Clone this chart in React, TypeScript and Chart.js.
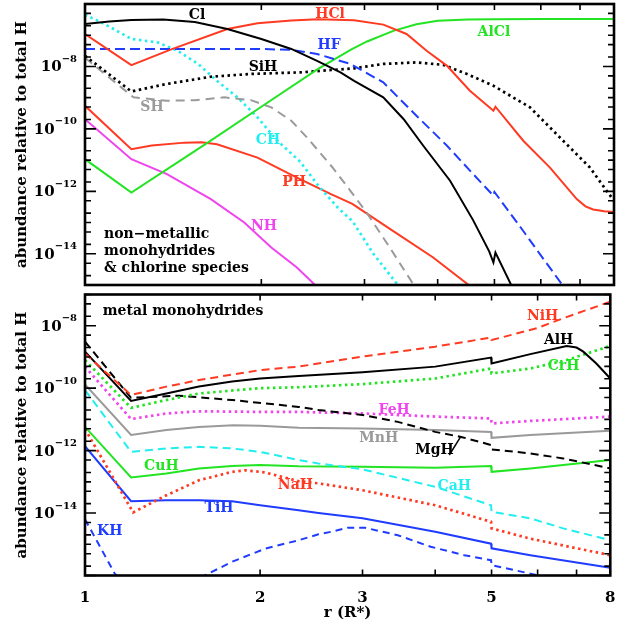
import React, { useEffect, useRef } from 'react';
import { Chart, registerables } from 'chart.js';

Chart.register(...registerables);
Chart.defaults.color = '#000';

const FONT = "'DejaVu Serif', 'Liberation Serif', serif";

const RED = '#ff3a22';
const GREEN = '#22e422';
const BLUE = '#1f3cff';
const CYAN = '#22eef0';
const MAGENTA = '#f044ee';
const GRAY = '#9a9a9a';
const BLACK = '#000000';

// ---------- axes ----------
const X_TICK_MARKS = [1, 2, 3, 4, 5, 6, 7, 8];
const X_TICK_LABELS = [1, 2, 3, 5, 8];
const Y_LABEL_EXPONENTS = [-8, -10, -12, -14];

// ---------- top panel (log10 abundance) ----------
const CL_R = [1, 1.1, 1.2, 1.36, 1.54, 1.75, 2.0, 2.25, 2.49, 2.73, 2.88, 3.23, 3.5, 3.78, 4.2, 4.6, 4.9, 4.98, 5.02, 5.35, 5.7];
const CL_V = [-6.64, -6.56, -6.51, -6.5, -6.58, -6.8, -7.12, -7.44, -7.82, -8.19, -8.46, -8.99, -9.69, -10.54, -11.66, -12.93, -13.93, -14.28, -13.96, -15.03, -16.13];

const HCL_R = [1, 1.2, 1.4, 1.75, 1.97, 2.25, 2.5, 2.88, 3.23, 3.54, 3.83, 4.15, 4.54, 4.98, 5.02, 5.6, 6.22, 6.91, 7.15, 7.37, 7.7, 8.0];
const HCL_V = [-6.96, -7.96, -7.46, -6.8, -6.62, -6.53, -6.49, -6.52, -6.66, -6.96, -7.5, -7.98, -8.78, -9.42, -9.29, -10.38, -11.24, -12.25, -12.48, -12.58, -12.64, -12.66];

const HF_R = [1, 1.5, 2.0, 2.25, 2.49, 2.84, 3.23, 3.68, 4.15, 4.6, 4.98, 5.0, 5.6, 6.0, 6.55, 6.8];
const HF_V = [-7.44, -7.44, -7.44, -7.47, -7.6, -7.92, -8.51, -9.58, -10.54, -11.45, -12.14, -12.02, -13.27, -14.05, -15.03, -15.5];

const ALCL_R = [1, 1.2, 1.62, 2.0, 2.5, 2.85, 3.03, 3.36, 3.68, 4.0, 4.5, 5.0, 6.0, 8.0];
const ALCL_V = [-10.97, -12.04, -10.44, -9.29, -8.08, -7.45, -7.2, -6.86, -6.65, -6.54, -6.5, -6.49, -6.48, -6.48];

const SIH_R = [1, 1.2, 1.38, 1.64, 1.92, 2.33, 2.88, 3.23, 3.68, 4.09, 4.5, 4.98, 5.75, 6.55, 7.28, 7.77, 8.0];
const SIH_V = [-7.66, -8.8, -8.56, -8.33, -8.24, -8.19, -8.06, -7.92, -7.87, -7.95, -8.25, -8.62, -9.31, -10.38, -11.24, -11.98, -12.3];

const SH_R = [1, 1.21, 1.38, 1.54, 1.73, 1.92, 2.08, 2.25, 2.4, 2.65, 2.83, 3.03, 3.3, 3.65, 3.8];
const SH_V = [-7.72, -8.99, -9.1, -9.08, -8.99, -9.08, -9.31, -9.74, -10.3, -11.25, -11.95, -12.7, -13.75, -15.03, -15.5];

const CH_R = [1, 1.08, 1.2, 1.33, 1.44, 1.56, 1.68, 1.82, 1.97, 2.13, 2.33, 2.49, 2.7, 2.86, 3.11, 3.43];
const CH_V = [-6.34, -6.64, -7.12, -7.23, -7.5, -7.92, -8.46, -8.99, -9.63, -10.38, -11.05, -11.77, -12.52, -12.95, -14.01, -15.03];

const PH_R = [1, 1.2, 1.3, 1.48, 1.58, 1.68, 1.97, 2.3, 2.63, 2.86, 3.32, 3.93, 4.54, 4.8];
const PH_V = [-9.26, -10.65, -10.53, -10.44, -10.43, -10.49, -10.92, -11.56, -12.09, -12.4, -13.21, -14.12, -15.03, -15.4];

const NH_R = [1, 1.2, 1.38, 1.64, 1.87, 2.08, 2.3, 2.48, 2.6];
const NH_V = [-9.69, -10.97, -11.45, -12.25, -13.0, -13.8, -14.44, -15.03, -15.4];

// ---------- bottom panel (log10 abundance) ----------
const ALH_R = [1, 1.2, 1.38, 1.57, 1.79, 2.0, 2.33, 3.0, 4.0, 4.99, 5.0, 5.83, 6.73, 7.0, 7.19, 7.57, 8.0];
const ALH_V = [-8.83, -10.41, -10.17, -9.95, -9.79, -9.69, -9.61, -9.49, -9.31, -9.02, -9.21, -8.91, -8.65, -8.7, -8.83, -9.21, -9.69];

const NIH_R = [1, 1.2, 1.38, 1.57, 2.0, 2.33, 3.0, 4.0, 4.99, 5.0, 5.98, 6.64, 8.0];
const NIH_V = [-8.89, -10.22, -9.95, -9.74, -9.42, -9.31, -8.99, -8.67, -8.38, -8.46, -8.08, -7.76, -7.23];

const CRH_R = [1, 1.2, 1.38, 1.57, 2.0, 2.33, 3.0, 4.0, 4.99, 5.0, 5.83, 6.73, 8.0];
const CRH_V = [-9.1, -10.63, -10.38, -10.17, -10.0, -9.97, -9.87, -9.69, -9.37, -9.53, -9.37, -9.1, -8.65];

const MGH_R = [1, 1.2, 1.45, 1.79, 2.33, 2.52, 3.0, 3.45, 4.0, 4.45, 4.99, 5.0, 5.83, 6.64, 8.0];
const MGH_V = [-8.51, -10.31, -10.24, -10.38, -10.6, -10.7, -10.86, -11.08, -11.4, -11.57, -11.82, -11.96, -12.09, -12.25, -12.57];

const FEH_R = [1, 1.2, 1.38, 1.57, 2.0, 2.33, 3.0, 4.0, 4.99, 5.0, 5.83, 8.0];
const FEH_V = [-9.31, -10.99, -10.81, -10.74, -10.76, -10.76, -10.81, -10.91, -10.97, -11.13, -11.05, -10.91];

const MNH_R = [1, 1.2, 1.38, 1.57, 1.8, 2.0, 2.33, 3.0, 4.0, 4.99, 5.0, 5.83, 8.0];
const MNH_V = [-9.88, -11.5, -11.34, -11.24, -11.19, -11.2, -11.27, -11.29, -11.34, -11.4, -11.59, -11.5, -11.36];

const CAH_R = [1, 1.2, 1.38, 1.57, 1.79, 2.0, 2.33, 2.52, 3.0, 4.0, 4.99, 5.0, 5.83, 6.64, 8.0];
const CAH_V = [-10.06, -12.04, -11.93, -11.88, -11.93, -12.04, -12.3, -12.41, -12.6, -13.16, -13.75, -13.96, -14.17, -14.49, -14.87];

const CUH_R = [1, 1.2, 1.38, 1.57, 1.79, 2.0, 2.33, 3.0, 4.0, 4.99, 5.0, 5.83, 8.0];
const CUH_V = [-11.24, -12.86, -12.73, -12.57, -12.49, -12.46, -12.5, -12.52, -12.55, -12.49, -12.68, -12.57, -12.3];

const NAH_R = [1, 1.21, 1.38, 1.57, 1.79, 1.89, 2.04, 2.33, 2.52, 3.0, 4.0, 4.99, 5.0, 5.83, 8.0];
const NAH_V = [-11.31, -13.98, -13.43, -12.95, -12.68, -12.63, -12.7, -12.98, -13.05, -13.27, -13.75, -14.28, -14.49, -14.82, -15.35];

const TIH_R = [1, 1.2, 1.38, 1.57, 1.79, 2.0, 2.33, 2.52, 3.0, 4.0, 4.99, 5.0, 5.83, 8.0];
const TIH_V = [-11.86, -13.62, -13.59, -13.59, -13.62, -13.75, -13.91, -14.0, -14.17, -14.6, -14.98, -15.13, -15.35, -15.75];

const KH_R = [1, 1.125, 1.3, 1.61, 1.79, 2.04, 2.33, 2.52, 2.65, 2.83, 3.03, 3.45, 3.93, 4.49, 4.99, 5.0, 5.83, 6.39, 6.8];
const KH_V = [-14.2, -15.94, -17.0, -15.99, -15.56, -15.14, -14.87, -14.68, -14.6, -14.47, -14.47, -14.71, -15.08, -15.35, -15.51, -15.67, -15.94, -16.1, -16.4];

// ---------- annotations (data coordinates: r, log10 abundance) ----------
type Lbl = { t: string; r: number; v: number; c: string };
const TOP_LABELS: Lbl[] = [
  { t: 'Cl', r: 1.553, v: -6.375, c: BLACK },
  { t: 'HCl', r: 2.62, v: -6.32, c: RED },
  { t: 'HF', r: 2.61, v: -7.34, c: BLUE },
  { t: 'AlCl', r: 4.99, v: -6.91, c: GREEN },
  { t: 'SiH', r: 2.013, v: -8.03, c: BLACK },
  { t: 'SH', r: 1.301, v: -9.31, c: GRAY },
  { t: 'CH', r: 2.053, v: -10.38, c: CYAN },
  { t: 'PH', r: 2.275, v: -11.72, c: RED },
  { t: 'NH', r: 2.021, v: -13.11, c: MAGENTA },
];
const TOP_NOTE = ['non\u2212metallic', 'monohydrides', '& chlorine species'];
const TOP_NOTE_POS = { r: 1.078, v: [-13.37, -13.91, -14.47] };

const BOTTOM_LABELS: Lbl[] = [
  { t: 'NiH', r: 6.12, v: -7.71, c: RED },
  { t: 'AlH', r: 6.52, v: -8.46, c: BLACK },
  { t: 'CrH', r: 6.65, v: -9.31, c: GREEN },
  { t: 'FeH', r: 3.4, v: -10.7, c: MAGENTA },
  { t: 'MnH', r: 3.2, v: -11.6, c: GRAY },
  { t: 'MgH', r: 3.99, v: -11.98, c: BLACK },
  { t: 'CuH', r: 1.353, v: -12.52, c: GREEN },
  { t: 'CaH', r: 4.315, v: -13.16, c: CYAN },
  { t: 'NaH', r: 2.3, v: -13.11, c: RED },
  { t: 'TiH', r: 1.7, v: -13.84, c: BLUE },
  { t: 'KH', r: 1.103, v: -14.58, c: BLUE },
];
const BOTTOM_NOTE = ['metal monohydrides'];
const BOTTOM_NOTE_POS = { r: 1.073, v: [-7.55] };
const MGH_LEADER = [
  [4.23, -12.14],
  [4.42, -11.57],
];

type Sty = 'solid' | 'dash' | 'dot';
function ds(label: string, r: number[], v: number[], color: string, sty: Sty, dash?: number[]) {
  return {
    label,
    data: r.map((x, i) => ({ x, y: Math.pow(10, v[i]) })),
    borderColor: color,
    backgroundColor: color,
    borderWidth: sty === 'dot' ? 2.7 : 2,
    borderDash: dash ?? (sty === 'dash' ? [8, 5] : sty === 'dot' ? [2.5, 3.5] : []),
    pointRadius: 0,
    pointHoverRadius: 0,
    fill: false,
    tension: 0,
  };
}

function makeDecor(labels: Lbl[], note: string[], notePos: { r: number; v: number[] }, leader?: number[][]) {
  return {
    id: 'decor',
    afterDatasetsDraw(chart: any) {
      const { ctx, chartArea: a } = chart;
      const xs = chart.scales.x;
      const ys = chart.scales.y;
      ctx.save();
      ctx.strokeStyle = '#000';
      ctx.lineWidth = 1.6;
      ctx.beginPath();
      for (const v of X_TICK_MARKS) {
        const px = xs.getPixelForValue(v);
        ctx.moveTo(px, a.top);
        ctx.lineTo(px, a.top + 6);
        ctx.moveTo(px, a.bottom);
        ctx.lineTo(px, a.bottom - 6);
      }
      const lo = Math.round(Math.log10(ys.min));
      const hi = Math.round(Math.log10(ys.max));
      for (let e = lo; e <= hi; e++) {
        for (const m of [1, 2, 5]) {
          const val = m * Math.pow(10, e);
          if (val < ys.min * 0.999 || val > ys.max * 1.001) continue;
          const py = ys.getPixelForValue(val);
          const len = m === 1 && e % 2 === 0 ? 11 : 6;
          ctx.moveTo(a.left, py);
          ctx.lineTo(a.left + len, py);
          ctx.moveTo(a.right, py);
          ctx.lineTo(a.right - len, py);
        }
      }
      ctx.stroke();
      ctx.lineWidth = 2.6;
      ctx.strokeRect(a.left, a.top, a.right - a.left, a.bottom - a.top);

      // y tick labels with superscript exponents
      ctx.fillStyle = '#000';
      ctx.textBaseline = 'middle';
      ctx.textAlign = 'right';
      for (const e of Y_LABEL_EXPONENTS) {
        const py = ys.getPixelForValue(Math.pow(10, e));
        const exp = '\u2212' + String(-e);
        ctx.font = `bold 10px ${FONT}`;
        const w = ctx.measureText(exp).width;
        ctx.fillText(exp, a.left - 8, py - 7);
        ctx.font = `bold 15px ${FONT}`;
        ctx.fillText('10', a.left - 8 - w, py + 1);
      }

      // curve labels
      ctx.textAlign = 'center';
      ctx.font = `bold 14px ${FONT}`;
      for (const l of labels) {
        ctx.fillStyle = l.c;
        ctx.fillText(l.t, xs.getPixelForValue(l.r), ys.getPixelForValue(Math.pow(10, l.v)));
      }
      ctx.fillStyle = '#000';
      ctx.textAlign = 'left';
      note.forEach((t, i) => {
        ctx.fillText(t, xs.getPixelForValue(notePos.r), ys.getPixelForValue(Math.pow(10, notePos.v[i])));
      });
      if (leader) {
        ctx.lineWidth = 1.5;
        ctx.beginPath();
        ctx.moveTo(xs.getPixelForValue(leader[0][0]), ys.getPixelForValue(Math.pow(10, leader[0][1])));
        ctx.lineTo(xs.getPixelForValue(leader[1][0]), ys.getPixelForValue(Math.pow(10, leader[1][1])));
        ctx.stroke();
      }
      ctx.restore();
    },
  };
}

const titleFont = { family: FONT, size: 15, weight: 'bold' as const };

function yScale(min: number, max: number) {
  return {
    type: 'logarithmic' as const,
    min,
    max,
    grid: { display: false },
    border: { display: false },
    ticks: { display: false },
    title: {
      display: true,
      text: 'abundance relative to total H',
      color: '#000',
      font: titleFont,
      padding: { top: 13, bottom: 0 },
    },
    afterFit: (s: any) => {
      s.width = 85;
    },
  };
}

function topConfig(): any {
  return {
    type: 'line',
    data: {
      datasets: [
        ds('Cl', CL_R, CL_V, BLACK, 'solid'),
        ds('HCl', HCL_R, HCL_V, RED, 'solid'),
        ds('HF', HF_R, HF_V, BLUE, 'dash', [10, 5]),
        ds('AlCl', ALCL_R, ALCL_V, GREEN, 'solid'),
        ds('SiH', SIH_R, SIH_V, BLACK, 'dot'),
        ds('SH', SH_R, SH_V, GRAY, 'dash', [9, 6]),
        ds('CH', CH_R, CH_V, CYAN, 'dot'),
        ds('PH', PH_R, PH_V, RED, 'solid'),
        ds('NH', NH_R, NH_V, MAGENTA, 'solid'),
      ],
    },
    options: {
      responsive: false,
      animation: false,
      events: [],
      layout: { padding: { left: 0, right: 7, top: 4, bottom: 5 } },
      plugins: { legend: { display: false }, tooltip: { enabled: false } },
      scales: {
        x: { type: 'logarithmic', min: 1, max: 8, display: false },
        y: yScale(1e-15, 1e-6),
      },
    },
    plugins: [makeDecor(TOP_LABELS, TOP_NOTE, TOP_NOTE_POS)],
  };
}

function bottomConfig(): any {
  return {
    type: 'line',
    data: {
      datasets: [
        ds('NiH', NIH_R, NIH_V, RED, 'dash'),
        ds('AlH', ALH_R, ALH_V, BLACK, 'solid'),
        ds('CrH', CRH_R, CRH_V, GREEN, 'dot'),
        ds('MgH', MGH_R, MGH_V, BLACK, 'dash'),
        ds('FeH', FEH_R, FEH_V, MAGENTA, 'dot'),
        ds('MnH', MNH_R, MNH_V, GRAY, 'solid'),
        ds('CaH', CAH_R, CAH_V, CYAN, 'dash'),
        ds('CuH', CUH_R, CUH_V, GREEN, 'solid'),
        ds('NaH', NAH_R, NAH_V, RED, 'dot'),
        ds('TiH', TIH_R, TIH_V, BLUE, 'solid'),
        ds('KH', KH_R, KH_V, BLUE, 'dash', [7, 5]),
      ],
    },
    options: {
      responsive: false,
      animation: false,
      events: [],
      layout: { padding: { left: 0, right: 7, top: 4.5, bottom: 0 } },
      plugins: { legend: { display: false }, tooltip: { enabled: false } },
      scales: {
        x: {
          type: 'logarithmic',
          min: 1,
          max: 8,
          position: 'bottom',
          grid: { display: false },
          border: { display: false },
          afterBuildTicks: (s: any) => {
            s.ticks = X_TICK_LABELS.map((v) => ({ value: v }));
          },
          ticks: {
            autoSkip: false,
            maxRotation: 0,
            padding: 5.5,
            color: '#000',
            font: { family: FONT, size: 15, weight: 'bold' },
            callback: (v: any) => String(v),
          },
          title: {
            display: true,
            text: 'r (R*)',
            color: '#000',
            font: titleFont,
            padding: { top: 0, bottom: 6 },
          },
          afterFit: (s: any) => {
            s.height = 52.5;
          },
        },
        y: yScale(1e-16, 1e-7),
      },
    },
    plugins: [makeDecor(BOTTOM_LABELS, BOTTOM_NOTE, BOTTOM_NOTE_POS, MGH_LEADER)],
  };
}

export default function App() {
  const topRef = useRef<HTMLCanvasElement>(null);
  const botRef = useRef<HTMLCanvasElement>(null);
  useEffect(() => {
    const c1 = new Chart(topRef.current as HTMLCanvasElement, topConfig());
    const c2 = new Chart(botRef.current as HTMLCanvasElement, bottomConfig());
    return () => {
      c1.destroy();
      c2.destroy();
    };
  }, []);
  return (
    <div style={{ position: 'absolute', left: 0, top: 0, width: 621, height: 628, background: '#fff' }}>
      <canvas ref={topRef} width={621} height={290} style={{ position: 'absolute', left: 0, top: 0 }} />
      <canvas ref={botRef} width={621} height={338} style={{ position: 'absolute', left: 0, top: 290 }} />
    </div>
  );
}
